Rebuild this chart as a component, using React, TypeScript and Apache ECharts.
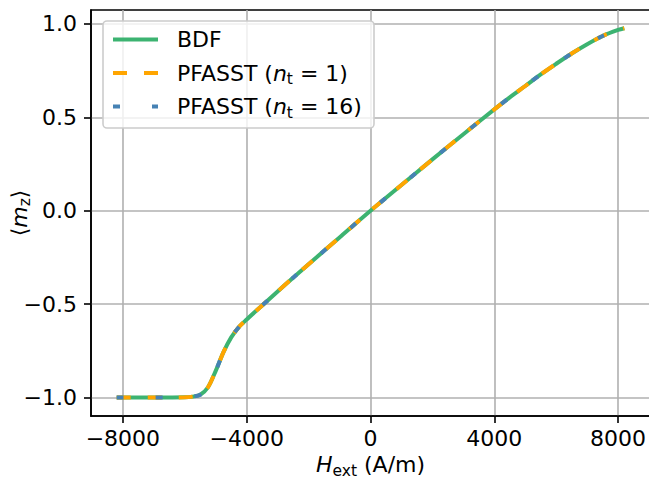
import React, { useEffect, useRef } from "react";
import * as echarts from "echarts";

const hExt = [
  -8200, -7000, -6000, -5750, -5500, -5250, -5000, -4750, -4500, -4250, -4000,
  -3500, -3000, -2500, -2000, -1000, 0, 1000, 2000, 3000, 4000, 4500, 5000,
  5500, 6000, 6500, 7000, 7500, 8000, 8200,
];
const mzBDF = [
  -1.0, -1.0, -0.999, -0.995, -0.985, -0.945, -0.857, -0.757, -0.678, -0.622,
  -0.582, -0.507, -0.432, -0.358, -0.286, -0.143, 0.0, 0.138, 0.275, 0.41,
  0.543, 0.607, 0.668, 0.73, 0.787, 0.842, 0.892, 0.936, 0.968, 0.977,
];
const mzPF1 = mzBDF.slice();
const mzPF16 = mzBDF.slice();

const xTicks = [-8000, -4000, 0, 4000, 8000];
const yTicks = [-1.0, -0.5, 0.0, 0.5, 1.0];
const seriesNames = ["BDF", "PFASST (n_t = 1)", "PFASST (n_t = 16)"];

const FONT = "DejaVu Sans";
const FS = 22;
const GREEN = "#3cb371";
const ORANGE = "#ffa500";
const BLUE = "#4682b4";

const pairs = (ys: number[]) => hExt.map((x, i) => [x, ys[i]]);
const minus = (s: string) => s.replace("-", "\u2212");

export default function App() {
  const ref = useRef<HTMLDivElement>(null);
  useEffect(() => {
    if (!ref.current) return;
    const chart = echarts.init(ref.current, null, { renderer: "svg" });
    const richMath = {
      r: { fontFamily: FONT, fontSize: FS, color: "#000", lineHeight: 28 },
      i: { fontFamily: FONT, fontSize: FS, fontStyle: "italic", color: "#000", lineHeight: 28 },
      s: { fontFamily: FONT, fontSize: 15.5, color: "#000", lineHeight: 15, verticalAlign: "bottom" },
    };
    const legendLeft = 103;
    const legendTop = 21;
    const rows = [39.5, 73, 106.5];
    const lx1 = 113;
    const lx2 = 158;
    const tx = 177;
    const legendTexts = [
      "{r|BDF}",
      "{r|PFASST (}{i|n}{s|t}{r| = 1)}",
      "{r|PFASST (}{i|n}{s|t}{r| = 16)}",
    ];
    chart.setOption({
      animation: false,
      grid: {
        left: 91,
        top: 10,
        width: 559,
        height: 406,
        containLabel: false,
        outerBoundsMode: "none",
        show: true,
        borderColor: "#000",
        borderWidth: 1.6,
        backgroundColor: "#fff",
      },
      xAxis: {
        type: "value",
        min: -9030,
        max: 9030,
        axisLine: { show: true, onZero: false, lineStyle: { color: "#000", width: 1.6 } },
        axisTick: { show: true, length: 7, customValues: xTicks, lineStyle: { color: "#000", width: 1.6 } },
        axisLabel: {
          customValues: xTicks,
          margin: 11,
          fontFamily: FONT,
          fontSize: FS,
          color: "#000",
          formatter: (v: number) => minus(String(v)),
        },
        splitLine: { show: true, lineStyle: { color: "#b0b0b0", width: 1.6 } },
        name: "{i|H}{s|ext}{r| (A/m)}",
        nameLocation: "middle",
        nameGap: 34,
        nameTextStyle: { rich: richMath },
      },
      yAxis: {
        type: "value",
        min: -1.0988,
        max: 1.0749,
        axisLine: { show: true, onZero: false, lineStyle: { color: "#000", width: 1.6 } },
        axisTick: { show: true, length: 7, customValues: yTicks, lineStyle: { color: "#000", width: 1.6 } },
        axisLabel: {
          customValues: yTicks,
          margin: 14,
          fontFamily: FONT,
          fontSize: FS,
          color: "#000",
          formatter: (v: number) => minus(v.toFixed(1)),
        },
        splitLine: { show: true, lineStyle: { color: "#b0b0b0", width: 1.6 } },
        name: "{r|\u27e8}{i|m}{s|z}{r|\u27e9}",
        nameLocation: "middle",
        nameRotate: 90,
        nameGap: 58,
        nameMoveOverlap: false,
        nameTextStyle: { rich: richMath },
      },
      series: [
        {
          name: seriesNames[0],
          type: "line",
          data: pairs(mzBDF),
          showSymbol: false,
          smooth: 0.3,
          lineStyle: { color: GREEN, width: 4 },
          z: 2,
        },
        {
          name: seriesNames[1],
          type: "line",
          data: pairs(mzPF1),
          showSymbol: false,
          smooth: 0.3,
          lineStyle: { color: ORANGE, width: 4, type: [14, 17] },
          z: 3,
        },
        {
          name: seriesNames[2],
          type: "line",
          data: pairs(mzPF16),
          showSymbol: false,
          smooth: 0.3,
          lineStyle: { color: BLUE, width: 4, type: [7, 32] },
          z: 4,
        },
      ],
      graphic: [
        {
          type: "rect",
          z: 100,
          shape: { x: legendLeft, y: legendTop, width: 271, height: 107, r: 4 },
          style: { fill: "rgba(255,255,255,0.8)", stroke: "#cccccc", lineWidth: 1.6 },
        },
        {
          type: "line",
          z: 101,
          shape: { x1: lx1, y1: rows[0], x2: lx2, y2: rows[0] },
          style: { stroke: GREEN, lineWidth: 4 },
        },
        {
          type: "line",
          z: 101,
          shape: { x1: lx1, y1: rows[1], x2: lx2, y2: rows[1] },
          style: { stroke: ORANGE, lineWidth: 4, lineDash: [14, 17] },
        },
        {
          type: "line",
          z: 101,
          shape: { x1: lx1, y1: rows[2], x2: lx2, y2: rows[2] },
          style: { stroke: BLUE, lineWidth: 4, lineDash: [7, 32] },
        },
        ...legendTexts.map((t, k) => ({
          type: "text",
          z: 101,
          x: tx,
          y: rows[k],
          style: {
            text: t,
            rich: richMath,
            verticalAlign: "middle",
            align: "left",
          },
        })),
      ],
    });
    return () => chart.dispose();
  }, []);
  return (
    <div
      ref={ref}
      style={{ position: "absolute", left: 0, top: 0, width: 649, height: 485, background: "#fff" }}
    />
  );
}
